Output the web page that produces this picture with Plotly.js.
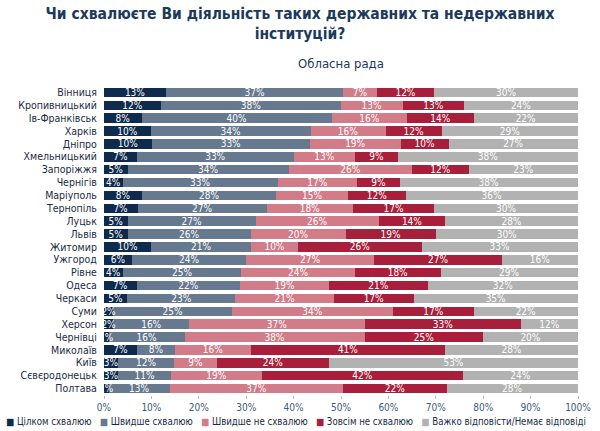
<!DOCTYPE html>
<html>
<head>
<meta charset="utf-8">
<script src="https://cdn.plot.ly/plotly-3.0.1.min.js"></script>
<style>html,body{margin:0;padding:0;background:#fff;}#chart{width:600px;height:431px;}</style>
</head>
<body>
<div id="chart"></div>
<script>
const cities = ["Вінниця","Кропивницький","Ів-Франківськ","Харків","Дніпро","Хмельницький","Запоріжжя","Чернігів","Маріуполь","Тернопіль","Луцьк","Львів","Житомир","Ужгород","Рівне","Одеса","Черкаси","Суми","Херсон","Чернівці","Миколаїв","Київ","Сєвєродонецьк","Полтава"];
const fullyApprove   = [13,12,8,10,10,7,5,4,8,7,5,5,10,6,4,7,5,2,2,1,7,3,3,1];
const ratherApprove  = [37,38,40,34,33,33,34,33,28,27,27,26,21,24,25,22,23,25,16,16,8,12,11,13];
const ratherDisapprove = [7,13,16,16,19,13,26,17,15,18,26,20,10,27,24,19,21,34,37,38,16,9,19,37];
const fullyDisapprove  = [12,13,14,12,10,9,12,9,12,17,14,19,26,27,18,21,17,17,33,25,41,24,42,22];
const hardToSay      = [30,24,22,29,27,38,23,38,36,30,28,30,33,16,29,32,35,22,12,20,28,53,24,28];
const seriesNames = ["Цілком схвалюю","Швидше схвалюю","Швидше не схвалюю","Зовсім не схвалюю","Важко відповісти/Немає відповіді"];
const xTicks = [0,10,20,30,40,50,60,70,80,90,100];
const xTickLabels = ["0%","10%","20%","30%","40%","50%","60%","70%","80%","90%","100%"];

const colors = ["#0e2a4d","#67798f","#d27c8a","#a81f3b","#b2b2b2"];
const seriesVals = [fullyApprove, ratherApprove, ratherDisapprove, fullyDisapprove, hardToSay];
const FONT = "DejaVu Sans Condensed, DejaVu Sans, sans-serif";

const traces = seriesVals.map((vals, i) => ({
  type: 'bar',
  orientation: 'h',
  name: seriesNames[i],
  y: cities,
  x: vals,
  text: vals.map(v => v + '%'),
  textposition: 'inside',
  insidetextanchor: 'middle',
  textangle: 0,
  constraintext: 'none',
  textfont: {family: FONT, size: 10, color: '#ffffff'},
  marker: {color: colors[i], line: {width: 0}},
  hoverinfo: 'none',
  showlegend: false,
  zorder: 5 - i
}));

const legendText = seriesNames.map((n, i) =>
  '<span style="color:' + colors[i] + '">■</span> ' + n).join('   ');

const layout = {
  width: 600, height: 431,
  paper_bgcolor: '#ffffff', plot_bgcolor: '#ffffff',
  barmode: 'stack', barnorm: 'percent', bargap: 0.26,
  margin: {l: 104, r: 22, t: 86, b: 36},
  title: {
    text: '<b>Чи схвалюєте Ви діяльність таких державних та недержавних<br>інституцій?</b>',
    font: {family: FONT, size: 15.5, color: '#1c3a5a'},
    x: 0.5, xanchor: 'center', yref: 'container', y: 0.956, yanchor: 'middle'
  },
  annotations: [{
    text: 'Обласна рада', xref: 'paper', yref: 'paper', x: 0.5, y: 1, yshift: 23,
    xanchor: 'center', yanchor: 'middle', showarrow: false,
    font: {family: FONT, size: 13, color: '#1c3a5a'}
  }, {
    text: legendText, xref: 'paper', yref: 'paper', x: -0.21, y: 0, yshift: -26,
    xanchor: 'left', yanchor: 'middle', showarrow: false,
    font: {family: FONT, size: 9.6, color: '#1a2b45'}
  }],
  xaxis: {
    range: [0, 100], tickvals: xTicks, ticktext: xTickLabels,
    showgrid: false, zeroline: false, showline: true, linecolor: '#bdbdbd', linewidth: 1,
    ticks: 'outside', ticklen: 3, tickcolor: '#bdbdbd',
    tickfont: {family: FONT, size: 10, color: '#3d5a7a'}, fixedrange: true
  },
  yaxis: {
    autorange: 'reversed', type: 'category', tickmode: 'array', tickvals: cities, ticktext: cities,
    showgrid: false, zeroline: false, showline: true, linecolor: '#cfcfcf', linewidth: 1,
    ticks: '', ticklabelstandoff: 4,
    tickfont: {family: FONT, size: 10.5, color: '#1a2b45'}
  },
  showlegend: false
};

Plotly.newPlot('chart', traces, layout, {displayModeBar: false, staticPlot: true});
</script>
</body>
</html>
